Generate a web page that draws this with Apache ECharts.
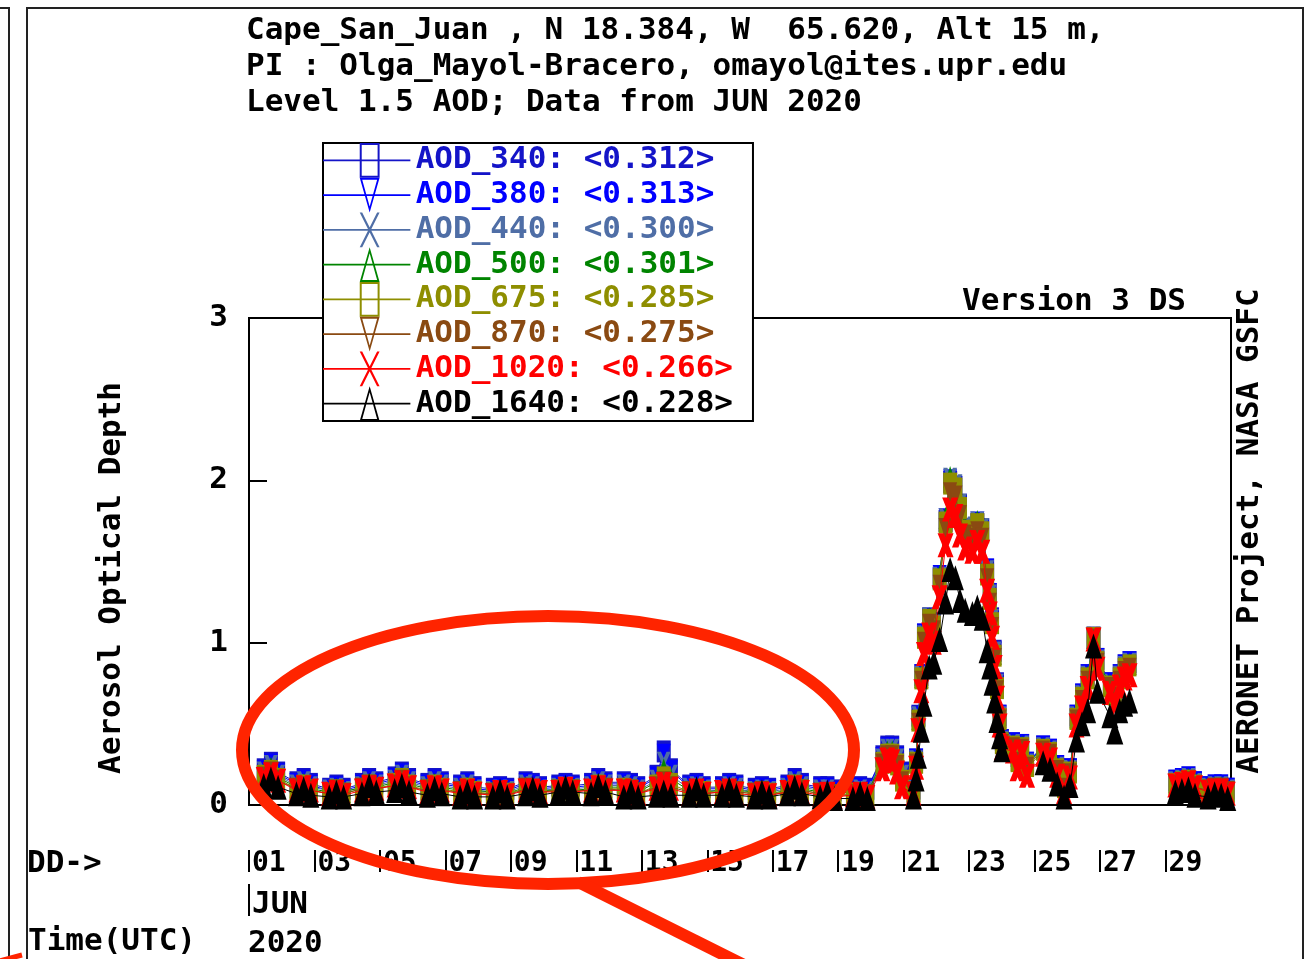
<!DOCTYPE html>
<html>
<head>
<meta charset="utf-8">
<script src="https://cdn.jsdelivr.net/npm/echarts@6/dist/echarts.min.js"></script>
<style>html,body{margin:0;padding:0;background:#fff}#c{width:1307px;height:959px}</style>
</head>
<body>
<div id="c"></div>
<script>
// ---- data ----
const seriesNames = ['AOD_340','AOD_380','AOD_440','AOD_500','AOD_675','AOD_870','AOD_1020','AOD_1640'];
const seriesMeans = ['0.312','0.313','0.300','0.301','0.285','0.275','0.266','0.228'];
const xTickValues = [1,3,5,7,9,11,13,15,17,19,21,23,25,27,29];
const xTickLabels = ['01','03','05','07','09','11','13','15','17','19','21','23','25','27','29'];
const yTickValues = [0,1,2,3];

// observation times (day of June 2020, UTC, fractional)
const times = [
1.45,1.67,1.89, 2.45,2.67,2.89, 3.45,3.67,3.89, 4.45,4.67,4.89, 5.45,5.67,5.89, 6.45,6.67,6.89,
7.45,7.67,7.89, 8.45,8.67,8.89, 9.45,9.67,9.89, 10.45,10.67,10.89, 11.45,11.67,11.89, 12.45,12.67,12.89,
13.45,13.67,13.89, 14.45,14.67,14.89, 15.45,15.67,15.89, 16.45,16.67,16.89, 17.45,17.67,17.89,
18.45,18.67,18.89, 19.45,19.67,19.89,
20.35,20.5,20.65,20.8,20.95,
21.30,21.38,21.45,21.54,21.62,21.78,21.92,22.10,22.28,22.42,22.58,22.72,22.88,23.10,23.25,23.40,23.55,23.63,23.70,23.78,23.85,23.93,24.00,
24.34,24.48,24.62,24.77,
25.26,25.47,25.69,25.90,
26.08,26.28,26.45,26.62,26.80,26.92,
27.30,27.45,27.60,27.75,27.90,
28.5,
29.30,29.50,29.70,29.90,
30.30,30.50,30.70,30.90];

const aod340 = [
0.22,0.26,0.20, 0.14,0.16,0.13, 0.10,0.12,0.10, 0.13,0.16,0.14, 0.17,0.20,0.16, 0.13,0.16,0.14,
0.12,0.14,0.11, 0.10,0.11,0.10, 0.14,0.13,0.11, 0.12,0.13,0.12, 0.13,0.16,0.14, 0.14,0.13,0.11,
0.18,0.33,0.22, 0.12,0.13,0.11, 0.11,0.13,0.12, 0.10,0.11,0.10, 0.12,0.16,0.13, 0.11,0.11,0.09, 0.10,0.11,0.10,
0.30,0.36,0.36,0.30,0.20,
0.10,0.28,0.55,0.80,1.05,1.15,1.12,1.40,1.75,1.99,1.96,1.85,1.70,1.68,1.73,1.70,1.45,1.30,1.15,0.95,0.75,0.55,0.40,
0.38,0.30,0.37,0.26,
0.36,0.34,0.24,0.13,
0.22,0.55,0.68,0.80,1.03,0.90,
0.75,0.70,0.80,0.86,0.88,
null,
0.15,0.16,0.17,0.14,
0.11,0.12,0.12,0.10];

const aod380 = [
0.21,0.25,0.19, 0.13,0.15,0.12, 0.09,0.11,0.09, 0.12,0.15,0.13, 0.16,0.19,0.15, 0.12,0.15,0.13,
0.11,0.13,0.10, 0.09,0.10,0.09, 0.13,0.12,0.10, 0.11,0.12,0.11, 0.12,0.15,0.13, 0.13,0.12,0.10,
0.17,0.31,0.21, 0.11,0.12,0.10, 0.10,0.12,0.11, 0.09,0.10,0.09, 0.11,0.15,0.12, 0.10,0.10,0.08, 0.09,0.10,0.09,
0.29,0.35,0.35,0.29,0.19,
0.10,0.28,0.54,0.80,1.05,1.14,1.12,1.41,1.76,2.00,1.96,1.84,1.70,1.69,1.74,1.69,1.45,1.30,1.14,0.94,0.74,0.55,0.40,
0.38,0.29,0.37,0.26,
0.36,0.34,0.24,0.13,
0.22,0.55,0.68,0.80,1.03,0.90,
0.75,0.70,0.80,0.86,0.88,
null,
0.15,0.16,0.17,0.14,
0.11,0.12,0.12,0.10];

const aod440 = [
0.20,0.24,0.18, 0.12,0.14,0.11, 0.09,0.10,0.08, 0.11,0.14,0.12, 0.15,0.18,0.14, 0.11,0.14,0.12,
0.10,0.12,0.09, 0.08,0.09,0.08, 0.12,0.11,0.09, 0.10,0.11,0.10, 0.11,0.14,0.12, 0.12,0.11,0.09,
0.15,0.26,0.18, 0.10,0.11,0.09, 0.09,0.11,0.10, 0.08,0.09,0.08, 0.10,0.14,0.11, 0.09,0.09,0.07, 0.08,0.09,0.08,
0.28,0.34,0.34,0.28,0.18,
0.09,0.27,0.54,0.79,1.04,1.15,1.11,1.40,1.76,2.01,1.97,1.85,1.71,1.69,1.74,1.70,1.44,1.29,1.14,0.94,0.74,0.54,0.39,
0.37,0.29,0.36,0.25,
0.35,0.33,0.23,0.12,
0.21,0.54,0.67,0.79,1.03,0.89,
0.74,0.69,0.79,0.85,0.87,
null,
0.14,0.15,0.16,0.13,
0.10,0.11,0.11,0.09];

const aod500 = [
0.19,0.23,0.17, 0.11,0.13,0.10, 0.08,0.10,0.08, 0.11,0.13,0.11, 0.14,0.17,0.13, 0.10,0.13,0.11,
0.09,0.11,0.09, 0.08,0.09,0.07, 0.11,0.10,0.09, 0.09,0.10,0.09, 0.10,0.13,0.11, 0.11,0.10,0.08,
0.14,0.22,0.16, 0.09,0.10,0.08, 0.09,0.10,0.09, 0.08,0.09,0.07, 0.09,0.13,0.10, 0.08,0.08,0.07, 0.08,0.08,0.07,
0.27,0.33,0.33,0.27,0.17,
0.09,0.27,0.53,0.79,1.04,1.15,1.11,1.41,1.77,2.02,1.98,1.86,1.71,1.70,1.75,1.70,1.44,1.29,1.13,0.93,0.73,0.54,0.39,
0.37,0.28,0.36,0.25,
0.35,0.33,0.23,0.12,
0.21,0.54,0.67,0.79,1.03,0.89,
0.74,0.69,0.79,0.85,0.87,
null,
0.14,0.15,0.16,0.13,
0.10,0.11,0.11,0.09];

const aod675 = [
0.18,0.21,0.16, 0.10,0.12,0.09, 0.07,0.09,0.07, 0.10,0.12,0.10, 0.13,0.16,0.12, 0.09,0.12,0.10,
0.08,0.10,0.08, 0.07,0.08,0.07, 0.10,0.09,0.08, 0.09,0.10,0.09, 0.09,0.12,0.10, 0.10,0.09,0.07,
0.12,0.17,0.13, 0.08,0.09,0.08, 0.08,0.09,0.08, 0.07,0.08,0.07, 0.08,0.12,0.09, 0.07,0.07,0.06, 0.07,0.07,0.06,
0.26,0.31,0.31,0.25,0.15,
0.08,0.26,0.52,0.78,1.03,1.14,1.10,1.39,1.74,1.98,1.95,1.83,1.69,1.68,1.73,1.68,1.42,1.27,1.12,0.92,0.72,0.53,0.38,
0.36,0.27,0.35,0.24,
0.34,0.32,0.22,0.11,
0.20,0.53,0.66,0.78,1.03,0.88,
0.73,0.68,0.78,0.84,0.86,
null,
0.13,0.14,0.15,0.12,
0.09,0.10,0.10,0.08];

const aod870 = [
0.17,0.20,0.15, 0.10,0.11,0.09, 0.07,0.09,0.07, 0.10,0.12,0.10, 0.12,0.15,0.11, 0.09,0.11,0.09,
0.08,0.09,0.07, 0.07,0.08,0.06, 0.10,0.09,0.08, 0.09,0.10,0.09, 0.09,0.11,0.10, 0.09,0.09,0.07,
0.11,0.14,0.11, 0.08,0.09,0.07, 0.08,0.09,0.08, 0.07,0.08,0.06, 0.08,0.11,0.09, 0.07,0.07,0.06, 0.06,0.07,0.06,
0.25,0.30,0.30,0.24,0.14,
0.08,0.25,0.50,0.76,1.00,1.11,1.07,1.35,1.70,1.92,1.90,1.78,1.66,1.64,1.68,1.64,1.39,1.24,1.09,0.90,0.70,0.52,0.37,
0.35,0.26,0.34,0.23,
0.33,0.31,0.21,0.10,
0.19,0.52,0.64,0.76,1.02,0.87,
0.72,0.66,0.76,0.82,0.84,
null,
0.12,0.13,0.14,0.11,
0.09,0.10,0.10,0.08];

const aod1020 = [
0.16,0.19,0.15, 0.09,0.11,0.09, 0.07,0.08,0.06, 0.09,0.11,0.10, 0.12,0.14,0.11, 0.08,0.11,0.09,
0.07,0.09,0.07, 0.06,0.08,0.06, 0.09,0.09,0.08, 0.08,0.10,0.08, 0.09,0.11,0.09, 0.09,0.08,0.07,
0.10,0.13,0.10, 0.07,0.09,0.07, 0.08,0.09,0.07, 0.06,0.07,0.06, 0.08,0.11,0.08, 0.06,0.07,0.05, 0.06,0.07,0.05,
0.22,0.28,0.27,0.20,0.11,
0.07,0.23,0.46,0.70,0.93,1.05,1.00,1.28,1.60,1.82,1.78,1.66,1.58,1.56,1.62,1.56,1.32,1.18,1.03,0.85,0.66,0.49,0.35,
0.33,0.22,0.32,0.18,
0.31,0.28,0.18,0.08,
0.17,0.49,0.60,0.72,1.02,0.84,
0.69,0.62,0.73,0.78,0.80,
null,
0.12,0.13,0.14,0.11,
0.08,0.09,0.09,0.07];

const aod1640 = [
0.12,0.16,0.11, 0.07,0.10,0.06, 0.05,0.08,0.05, 0.07,0.12,0.08, 0.09,0.12,0.08, 0.06,0.10,0.07,
0.05,0.08,0.05, 0.05,0.086,0.05, 0.07,0.10,0.06, 0.08,0.11,0.08, 0.07,0.12,0.08, 0.05,0.08,0.05,
0.06,0.08,0.06, 0.06,0.10,0.06, 0.06,0.10,0.06, 0.05,0.08,0.05, 0.07,0.11,0.07, 0.05,0.08,0.04, 0.04,0.07,0.04,
null,null,null,null,null,
0.05,0.16,0.30,0.46,0.62,0.85,0.88,1.02,1.25,1.45,1.40,1.26,1.20,1.18,1.22,1.15,0.95,0.85,0.75,0.64,0.52,0.42,0.34,
null,null,null,null,
0.26,0.22,0.13,0.05,
0.12,0.40,0.50,0.58,0.98,0.70,
0.55,0.45,0.58,0.62,0.64,
null,
0.08,0.09,0.10,0.06,
0.05,0.07,0.06,0.04];

const seriesValues = [aod340, aod380, aod440, aod500, aod675, aod870, aod1020, aod1640];

// ---- styles ----
const FONT = '"DejaVu Sans Mono", "Liberation Mono", monospace';
const colors = ['#1414c8','#0000ff','#4f6ea6','#008400','#8e8e00','#8a4a12','#ff0000','#000000'];
const X_PATH = 'path://M0 0 L3 0 L10 16 L7 16 Z M7 0 L10 0 L3 16 L0 16 Z';
const X_THICK = 'path://M0 0 L4 0 L10 16 L6 16 Z M6 0 L10 0 L4 16 L0 16 Z';
const plotSymbols = ['rect','triangle',X_PATH,'triangle','rect','triangle',X_THICK,'triangle'];
const plotRotate = [0,180,0,0,0,180,0,0];
const plotSizes = [[14,22],[14,22],[14,22],[14,22],[14,22],[14,22],[16,24],[17,25]];

// legend icons: line + outlined marker
const LINE = 'M0 16.5 H88 V18.5 H0 Z ';
const SQ = 'M37 0 H57 V35 H37 Z M39 2 V33 H55 V2 Z';
const TRI_UP = 'M47 0 L57 35 L37 35 Z M47 6 L39.5 33 L54.5 33 Z';
const TRI_DN = 'M37 0 L57 0 L47 35 Z M39.5 2 L47 29 L54.5 2 Z';
const XX = 'M37 0 L39.5 0 L57 35 L54.5 35 Z M54.5 0 L57 0 L39.5 35 L37 35 Z';
const legendIcons = [SQ, TRI_DN, XX, TRI_UP, SQ, TRI_DN, XX, TRI_UP].map(p => 'path://' + LINE + p);

const chart = echarts.init(document.getElementById('c'), null, {renderer: 'canvas'});

const series = seriesNames.map((name, k) => ({
  name,
  type: 'line',
  data: times.map((t, i) => [t, seriesValues[k][i]]),
  symbol: plotSymbols[k],
  symbolRotate: plotRotate[k],
  symbolSize: plotSizes[k],
  showSymbol: true,
  showAllSymbol: true,
  connectNulls: false,
  lineStyle: {color: colors[k], width: 1},
  itemStyle: {color: colors[k], borderWidth: 0},
  emphasis: {disabled: true},
  z: 2 + k * 0.01
}));

const txt = (text, x, y, align) => ({
  type: 'text', x, y,
  style: {text, font: 'bold 31px ' + FONT, fill: '#000', align: align || 'left', verticalAlign: 'middle'}
});

chart.setOption({
  animation: false,
  backgroundColor: '#fff',
  title: {
    text: 'Cape_San_Juan , N 18.384, W  65.620, Alt 15 m,\nPI : Olga_Mayol-Bracero, omayol@ites.upr.edu\nLevel 1.5 AOD; Data from JUN 2020',
    left: 246, top: 13, padding: 0,
    textStyle: {fontFamily: FONT, fontSize: 31, fontWeight: 'bold', lineHeight: 36, color: '#000'}
  },
  grid: {left: 249, right: 76, top: 318, bottom: 154, show: true, borderColor: '#000', borderWidth: 2, backgroundColor: 'transparent'},
  legend: {
    orient: 'vertical', left: 323, top: 143,
    itemWidth: 88, itemHeight: 34.75, itemGap: 0,
    padding: [0, 20, 0, 0],
    borderColor: '#000', borderWidth: 2, backgroundColor: '#fff',
    itemStyle: {borderWidth: 0},
    selectedMode: false,
    data: seriesNames.map((n, k) => ({name: n, icon: legendIcons[k], textStyle: {color: colors[k]}})),
    formatter: n => n + ': <' + seriesMeans[seriesNames.indexOf(n)] + '>',
    textStyle: {fontFamily: FONT, fontSize: 31, fontWeight: 'bold'}
  },
  xAxis: [
    {type: 'value', min: 1, max: 31, gridIndex: 0, position: 'bottom',
     axisLine: {show: true, lineStyle: {color: '#000', width: 2}},
     axisTick: {show: false}, axisLabel: {show: false}, splitLine: {show: false}},
    {type: 'value', min: 1, max: 31, gridIndex: 0, position: 'bottom', offset: 45,
     axisLine: {show: false}, splitLine: {show: false},
     axisTick: {show: true, inside: false, length: 22, customValues: xTickValues, lineStyle: {color: '#000', width: 2}},
     axisLabel: {show: true, customValues: xTickValues, margin: 0, align: 'left', padding: [0, 0, 0, 3],
       formatter: v => xTickLabels[xTickValues.indexOf(v)] || '',
       fontFamily: FONT, fontSize: 28, fontWeight: 'bold', color: '#000'}}
  ],
  yAxis: {
    type: 'value', min: 0, max: 3,
    axisLine: {show: true, lineStyle: {color: '#000', width: 2}},
    axisTick: {show: true, inside: true, length: 18, customValues: yTickValues, lineStyle: {color: '#000', width: 2}},
    axisLabel: {customValues: yTickValues, margin: 21, fontFamily: FONT, fontSize: 31, fontWeight: 'bold', color: '#000'},
    splitLine: {show: false}
  },
  graphic: [
    // outer frames
    {type: 'polyline', shape: {points: [[27, 962], [27, 8], [1303, 8], [1303, 962]]}, style: {stroke: '#222', lineWidth: 2, fill: null}, silent: true},
    {type: 'polyline', shape: {points: [[0, 8], [9, 8], [9, 962]]}, style: {stroke: '#222', lineWidth: 2, fill: null}, silent: true},
    // texts
    txt('Version 3 DS', 1186, 302, 'right'),
    {type: 'text', x: 112, y: 578, rotation: Math.PI / 2,
     style: {text: 'Aerosol Optical Depth', font: 'bold 31px ' + FONT, fill: '#000', align: 'center', verticalAlign: 'middle'}},
    {type: 'text', x: 1250, y: 531, rotation: Math.PI / 2,
     style: {text: 'AERONET Project, NASA GSFC', font: 'bold 31px ' + FONT, fill: '#000', align: 'center', verticalAlign: 'middle'}},
    txt('DD->', 27, 864),
    txt('JUN', 252, 905),
    {type: 'line', shape: {x1: 249, y1: 884, x2: 249, y2: 916}, style: {stroke: '#000', lineWidth: 2}, silent: true},
    txt('Time(UTC)', 28, 942),
    txt('2020', 248, 944),
    // red annotation
    {type: 'ellipse', shape: {cx: 548, cy: 750, rx: 306, ry: 134}, style: {stroke: '#ff2400', lineWidth: 12, fill: null}, z: 100, silent: true},
    {type: 'line', shape: {x1: 578, y1: 882, x2: 750, y2: 968}, style: {stroke: '#ff2400', lineWidth: 12}, z: 100, silent: true},
    {type: 'line', shape: {x1: -4, y1: 962, x2: 22, y2: 955}, style: {stroke: '#ff2400', lineWidth: 5}, z: 100, silent: true}
  ],
  series
});
</script>
</body>
</html>
